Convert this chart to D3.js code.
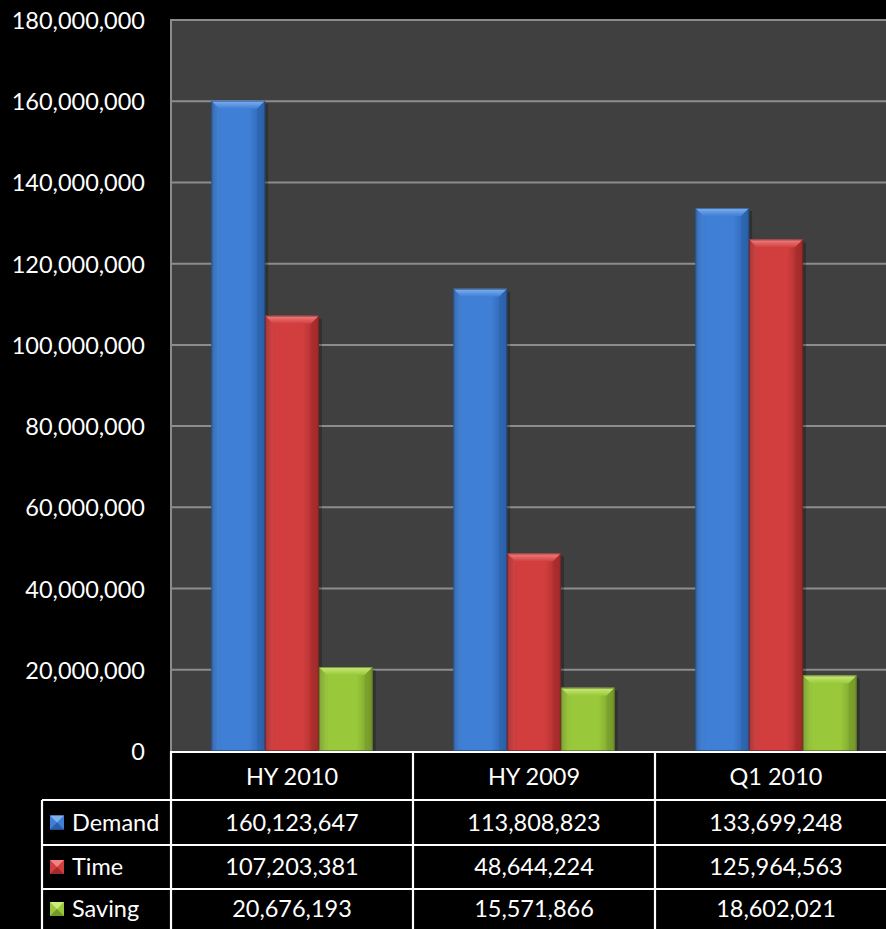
<!DOCTYPE html>
<html>
<head>
<meta charset="utf-8">
<script src="https://cdn.jsdelivr.net/npm/d3@7"></script>
<style>
  html, body { margin: 0; padding: 0; background: #000; }
  svg { display: block; }
  text { font-family: Lato, "Open Sans", sans-serif; fill: #fff; }
</style>
</head>
<body>
<svg id="chart" width="886" height="929"></svg>
<script>
// Periods and series
const categories = ["HY 2010", "HY 2009", "Q1 2010"];
const seriesNames = ["Demand", "Time", "Saving"];
const demand = [160123647, 113808823, 133699248];
const time = [107203381, 48644224, 125964563];
const saving = [20676193, 15571866, 18602021];
const yTicks = [0, 20000000, 40000000, 60000000, 80000000, 100000000, 120000000, 140000000, 160000000, 180000000];

const seriesValues = [demand, time, saving];
const palette = {
  Demand: { base: "#3f7fd6", light: "#80b2f0", dark: "#2a5fa8", edge: "#1d3f70" },
  Time:   { base: "#d23e3e", light: "#f08282", dark: "#a12a2a", edge: "#6a1a1a" },
  Saving: { base: "#99c83a", light: "#cbec7a", dark: "#74982a", edge: "#4a621a" }
};
const fontSize = "23.5px";

const svg = d3.select("#chart");
const plot = { left: 171, top: 20, bottom: 751, catW: 242 };
plot.right = plot.left + plot.catW * categories.length;

const y = d3.scaleLinear().domain([0, 180000000]).range([plot.bottom, plot.top]);
const x0 = d3.scaleBand().domain(categories).range([plot.left, plot.right]).paddingInner(0).paddingOuter(0);
const x1 = d3.scaleBand().domain(seriesNames).range([0, x0.bandwidth()]).paddingInner(0).paddingOuter(0.75);

// Gradients for the bevelled bars
const defs = svg.append("defs");
seriesNames.forEach(s => {
  const c = palette[s];
  const g = defs.append("linearGradient").attr("id", "g-" + s).attr("x1", 0).attr("x2", 1).attr("y1", 0).attr("y2", 0);
  g.append("stop").attr("offset", "0%").attr("stop-color", c.dark);
  g.append("stop").attr("offset", "18%").attr("stop-color", c.base);
  g.append("stop").attr("offset", "70%").attr("stop-color", c.base);
  g.append("stop").attr("offset", "100%").attr("stop-color", c.dark);
  const t = defs.append("linearGradient").attr("id", "t-" + s).attr("x1", 0).attr("x2", 0).attr("y1", 0).attr("y2", 1);
  t.append("stop").attr("offset", "0%").attr("stop-color", c.light);
  t.append("stop").attr("offset", "100%").attr("stop-color", c.base);
});

// Plot background
svg.append("rect")
  .attr("x", plot.left).attr("y", plot.top)
  .attr("width", plot.right - plot.left).attr("height", plot.bottom - plot.top)
  .attr("fill", "#404040");

// Gridlines
svg.append("g").selectAll("line").data(yTicks.filter(d => d > 0)).join("line")
  .attr("x1", plot.left).attr("x2", plot.right)
  .attr("y1", d => y(d)).attr("y2", d => y(d))
  .attr("stroke", "#8c8c8c").attr("stroke-width", 2);

// Plot frame (top and left)
svg.append("path")
  .attr("d", `M${plot.left},${plot.bottom}V${plot.top}H${plot.right}`)
  .attr("fill", "none").attr("stroke", "#8c8c8c").attr("stroke-width", 2);

// Y axis labels
const yAxis = d3.axisLeft(y).tickValues(yTicks).tickSize(0).tickPadding(0)
  .tickFormat(d3.format(","));
const yg = svg.append("g").attr("transform", `translate(145,0)`).call(yAxis);
yg.select(".domain").remove();
yg.selectAll("text").style("font-size", fontSize).attr("fill", "#fff").attr("dy", "0.36em")
  .style("font-family", "Lato, 'Open Sans', sans-serif");

// Bars
const bars = [];
categories.forEach((c, i) => {
  seriesNames.forEach((s, j) => {
    bars.push({ cat: c, series: s, value: seriesValues[j][i] });
  });
});

const bevel = 8;
const barG = svg.append("g");
bars.forEach(d => {
  const bx0 = x0(d.cat) + x1(d.series);
  const bx1 = bx0 + x1.bandwidth();
  const by0 = y(d.value);
  const by1 = y(0);
  const c = palette[d.series];
  const g = barG.append("g");
  // soft shadow on the right
  g.append("rect").attr("x", bx1).attr("y", by0 + 3).attr("width", 3).attr("height", by1 - by0 - 3)
    .attr("fill", "#000").attr("opacity", 0.25);
  g.append("rect").attr("x", bx0).attr("y", by0).attr("width", bx1 - bx0).attr("height", by1 - by0)
    .attr("fill", `url(#g-${d.series})`);
  const b = Math.min(bevel, (by1 - by0) / 2);
  // top bevel
  g.append("polygon")
    .attr("points", [[bx0, by0], [bx1, by0], [bx1 - b, by0 + b], [bx0 + b, by0 + b]].map(p => p.join(",")).join(" "))
    .attr("fill", `url(#t-${d.series})`);
  // right bevel
  g.append("polygon")
    .attr("points", [[bx1, by0], [bx1, by1], [bx1 - b, by1], [bx1 - b, by0 + b]].map(p => p.join(",")).join(" "))
    .attr("fill", c.dark).attr("opacity", 0.5);
  // left bevel
  g.append("polygon")
    .attr("points", [[bx0, by0], [bx0 + b, by0 + b], [bx0 + b, by1], [bx0, by1]].map(p => p.join(",")).join(" "))
    .attr("fill", c.light).attr("opacity", 0.15);
  g.append("rect").attr("x", bx0 + 0.5).attr("y", by0 + 0.5).attr("width", bx1 - bx0 - 1).attr("height", by1 - by0 - 1)
    .attr("fill", "none").attr("stroke", c.edge).attr("stroke-width", 1).attr("opacity", 0.6);
});

// Data table
const rowTops = [751, 800, 845, 889, 929];
const legendLeft = 42;
const tbl = svg.append("g");
const lineStyle = sel => sel.attr("stroke", "#fff").attr("stroke-width", 2.2).attr("fill", "none");

// header row
tbl.append("line").attr("x1", plot.left).attr("x2", plot.right).attr("y1", rowTops[0] + 1).attr("y2", rowTops[0] + 1).call(lineStyle);
// row separators
rowTops.slice(1, 4).forEach(ry => {
  tbl.append("line").attr("x1", legendLeft).attr("x2", plot.right).attr("y1", ry).attr("y2", ry).call(lineStyle);
});
// vertical lines
categories.forEach(c => {
  tbl.append("line").attr("x1", x0(c)).attr("x2", x0(c)).attr("y1", rowTops[0]).attr("y2", 929).call(lineStyle);
});
tbl.append("line").attr("x1", legendLeft).attr("x2", legendLeft).attr("y1", rowTops[1]).attr("y2", 929).call(lineStyle);

// header labels
tbl.selectAll("text.cat").data(categories).join("text").attr("class", "cat")
  .attr("x", d => x0(d) + x0.bandwidth() / 2)
  .attr("y", (rowTops[0] + rowTops[1]) / 2 + 1)
  .attr("text-anchor", "middle").attr("dy", "0.36em")
  .style("font-size", fontSize).text(d => d);

// values
seriesNames.forEach((s, j) => {
  const cy = (rowTops[j + 1] + rowTops[j + 2]) / 2;
  categories.forEach((c, i) => {
    tbl.append("text")
      .attr("x", x0(c) + x0.bandwidth() / 2).attr("y", cy)
      .attr("text-anchor", "middle").attr("dy", "0.36em")
      .style("font-size", fontSize)
      .text(d3.format(",")(seriesValues[j][i]));
  });
  // legend key
  const k = 14, kx = 50, ky = cy - k / 2;
  const c = palette[s];
  tbl.append("rect").attr("x", kx).attr("y", ky).attr("width", k).attr("height", k).attr("fill", c.base);
  tbl.append("polygon")
    .attr("points", [[kx, ky], [kx + k, ky], [kx + k / 2, ky + k / 2]].map(p => p.join(",")).join(" "))
    .attr("fill", c.light);
  tbl.append("polygon")
    .attr("points", [[kx, ky + k], [kx + k, ky + k], [kx + k / 2, ky + k / 2]].map(p => p.join(",")).join(" "))
    .attr("fill", c.dark);
  tbl.append("text").attr("x", 72).attr("y", cy).attr("dy", "0.36em")
    .style("font-size", fontSize).text(s);
});
</script>
</body>
</html>
